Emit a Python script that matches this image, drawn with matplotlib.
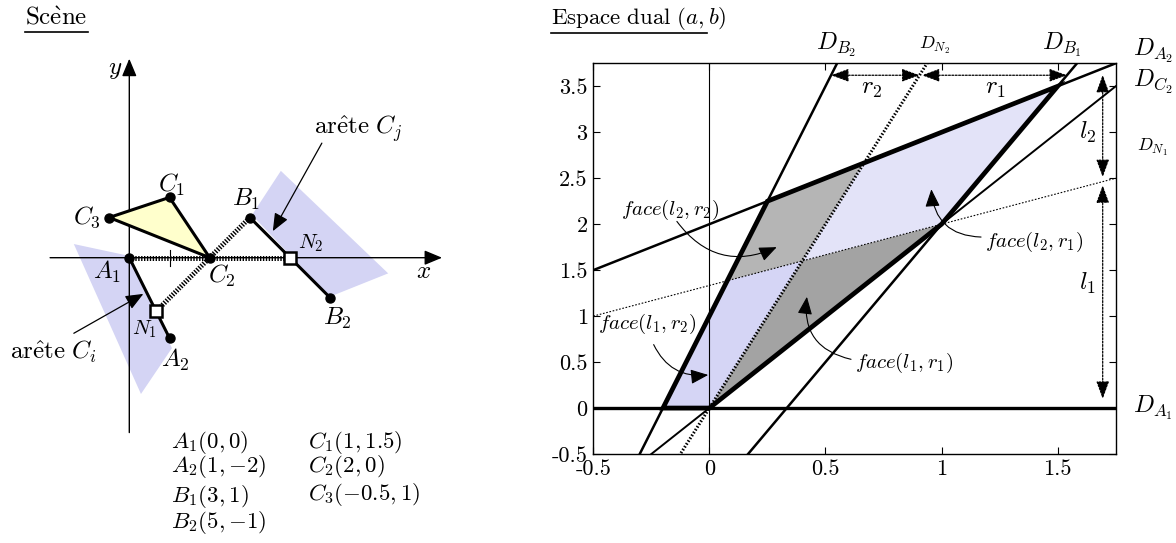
import numpy as np
import matplotlib.pyplot as plt
from matplotlib.lines import Line2D
from matplotlib.patches import Polygon

plt.rcParams["mathtext.fontset"] = "cm"
plt.rcParams["font.family"] = "cmr10"
plt.rcParams["axes.unicode_minus"] = False

# --- scene data ---
pt_names = ["A_1", "A_2", "B_1", "B_2", "C_1", "C_2", "C_3"]
pt_x = [0, 1, 3, 5, 1, 2, -0.5]
pt_y = [0, -2, 1, -1, 1.5, 0, 1]
pt_text = ["(0,0)", "(1,{-}2)", "(3,1)", "(5,{-}1)", "(1,1.5)", "(2,0)", "({-}0.5,1)"]
P = {n: (x, y) for n, x, y in zip(pt_names, pt_x, pt_y)}

n_names = ["N_1", "N_2"]
n_x = [2 / 3, 4]
n_y = [-4 / 3, 0]
N = {n: (x, y) for n, x, y in zip(n_names, n_x, n_y)}

# shaded half-planes around the two edges
shade_i_x = [-1.38, 0.02, 1.06, 0.29]
shade_i_y = [0.34, 0.04, -2.25, -3.39]
shade_j_x = [3.77, 6.44, 4.99, 3.05]
shade_j_y = [2.16, -0.39, -0.97, 1.06]

# --- dual space: point (x, y) -> line b = a*x - y ---
dual_names = ["A_1", "A_2", "B_1", "B_2", "C_2", "N_1", "N_2"]
dual = {}
for n in dual_names:
    x, y = P[n] if n in P else N[n]
    dual[n] = (x, -y)


def inter(n1, n2):
    m1, c1 = dual[n1]
    m2, c2 = dual[n2]
    a = (c2 - c1) / (m1 - m2)
    return (a, m1 * a + c1)


face_l1r2 = [("A_1", "B_2"), ("A_1", "C_2"), ("N_1", "N_2"), ("N_1", "B_2")]
face_l2r2 = [("N_1", "B_2"), ("N_1", "N_2"), ("N_2", "A_2"), ("A_2", "B_2")]
face_l1r1 = [("A_1", "C_2"), ("C_2", "B_1"), ("N_1", "N_2")]
face_l2r1 = [("N_1", "N_2"), ("C_2", "B_1"), ("B_1", "A_2"), ("N_2", "A_2")]
outline = [("A_1", "B_2"), ("A_1", "C_2"), ("C_2", "B_1"), ("B_1", "A_2"), ("A_2", "B_2")]

W, H = 1176, 543
fig = plt.figure(figsize=(W / 100, H / 100), dpi=100)


def fx(px):
    return px / W


def fy(py):
    return 1 - py / H


# ================= scene =================
sx0, sy0, sc = 129.3, 257.7, 40.2
ax0 = fig.add_axes([0, 0, 540 / W, 1])
ax0.set_xlim((0 - sx0) / sc, (540 - sx0) / sc)
ax0.set_ylim((sy0 - H) / sc, sy0 / sc)
ax0.axis("off")

blue = "#d4d4f4"
ax0.add_patch(Polygon(list(zip(shade_i_x, shade_i_y)), fc=blue, ec="none", zorder=1))
ax0.add_patch(Polygon(list(zip(shade_j_x, shade_j_y)), fc=blue, ec="none", zorder=1))

ahead = dict(arrowstyle="-|>,head_length=0.6,head_width=0.25", color="k",
             lw=1, mutation_scale=18, shrinkA=0, shrinkB=0)
ax0.annotate("", xy=(7.78, 0), xytext=(-1.97, 0), arrowprops=ahead, zorder=2)
ax0.annotate("", xy=(0, 4.95), xytext=(0, -4.35), arrowprops=ahead, zorder=2)
ax0.text(7.31, -0.36, "$x$", fontsize=18, ha="center", va="center")
ax0.text(-0.36, 4.66, "$y$", fontsize=18, ha="center", va="center")
ax0.plot([1, 1], [-0.2, 0.2], color="k", lw=0.8, zorder=2)
ax0.plot([-0.25, 0.25], [1, 1], color="k", lw=0.8, zorder=2)

hatch = dict(color="k", lw=3.6, ls=(0, (0.28, 0.3)), dash_capstyle="butt", zorder=3)
ax0.plot([P["A_1"][0], N["N_2"][0]], [P["A_1"][1], N["N_2"][1]], **hatch)
ax0.plot([N["N_1"][0], P["B_1"][0]], [N["N_1"][1], P["B_1"][1]], **hatch)

tri = [P["C_1"], P["C_2"], P["C_3"]]
ax0.add_patch(Polygon(tri, fc="#ffffcc", ec="k", lw=2.2, joinstyle="round", zorder=3))
ax0.plot([P["A_1"][0], P["A_2"][0]], [P["A_1"][1], P["A_2"][1]], color="k", lw=2.2, zorder=4)
ax0.plot([P["B_1"][0], P["B_2"][0]], [P["B_1"][1], P["B_2"][1]], color="k", lw=2.2, zorder=4)

ax0.plot(pt_x, pt_y, "o", ms=6.5, color="k", zorder=5)
ax0.plot(n_x, n_y, "s", ms=9, mfc="white", mec="k", mew=1.8, zorder=6)

lab_off = {"A_1": (-0.56, -0.36), "A_2": (0.14, -0.55), "B_1": (-0.1, 0.45),
           "B_2": (0.17, -0.5), "C_1": (0.05, 0.3), "C_2": (0.3, -0.45),
           "C_3": (-0.55, 0.0)}
for n in pt_names:
    dx, dy = lab_off[n]
    ax0.text(P[n][0] + dx, P[n][1] + dy, f"${n}$", fontsize=18, ha="center", va="center")
ax0.text(N["N_1"][0] - 0.28, N["N_1"][1] - 0.45, "$N_1$", fontsize=15, ha="center", va="center")
ax0.text(N["N_2"][0] + 0.52, N["N_2"][1] + 0.36, "$N_2$", fontsize=15, ha="center", va="center")

thin = dict(arrowstyle="-|>,head_length=0.6,head_width=0.25", color="k",
            lw=0.9, mutation_scale=18, shrinkA=0, shrinkB=0)
ax0.annotate("", xy=(3.57, 0.66), xytext=(4.79, 2.85), arrowprops=thin, zorder=7)
ax0.text(5.70, 3.22, r"$\mathrm{ar\hat{e}te}\ C_j$", fontsize=18, ha="center", va="center")
ax0.annotate("", xy=(0.35, -0.9), xytext=(-1.38, -1.88), arrowprops=thin, zorder=7)
ax0.text(-1.89, -2.34, r"$\mathrm{ar\hat{e}te}\ C_i$", fontsize=18, ha="center", va="center")

# coordinate list
col_y = {"A_1": 442, "A_2": 467, "B_1": 497, "B_2": 522, "C_1": 442, "C_2": 467, "C_3": 494}
for n, t in zip(pt_names, pt_text):
    px = 171 if n[0] in "AB" else 308
    fig.text(fx(px), fy(col_y[n]), f"${n}{t}$", fontsize=16.5, ha="left", va="center")

fig.text(fx(25), fy(18), r"$\mathrm{Sc\grave{e}ne}$", fontsize=18, ha="left", va="center")
fig.add_artist(Line2D([fx(25), fx(88)], [fy(32), fy(32)], color="k", lw=1.2))
fig.text(fx(551), fy(18), r"$\mathrm{Espace\ dual}\ (a,b)$", fontsize=16.5, ha="left", va="center")
fig.add_artist(Line2D([fx(551), fx(707)], [fy(33), fy(33)], color="k", lw=1.2))

# ================= dual space =================
ax1 = fig.add_axes([fx(593.3), fy(454), (1115.7 - 593.3) / W, (454 - 63.3) / H])
ax1.set_xlim(-0.5, 1.75)
ax1.set_ylim(-0.5, 3.75)

for pts, col in [(face_l1r2, "#d5d5f5"), (face_l2r2, "#b5b5b5"),
                 (face_l1r1, "#a3a3a3"), (face_l2r1, "#e3e3f8")]:
    ax1.add_patch(Polygon([inter(*p) for p in pts], fc=col, ec="none", zorder=1))

ax1.axvline(0, color="k", lw=0.8, zorder=2)
a = np.array([-0.5, 1.75])
styles = {"A_1": dict(lw=2.4), "A_2": dict(lw=1.8), "B_1": dict(lw=1.8),
          "B_2": dict(lw=1.8), "C_2": dict(lw=1.4),
          "N_1": dict(lw=0.8, ls=(0, (1.5, 1.5))),
          "N_2": dict(lw=2.2, ls=(0, (0.5, 0.6)))}
for n in dual_names:
    m, c = dual[n]
    ax1.plot(a, m * a + c, color="k", zorder=3, **styles[n])

ax1.add_patch(Polygon([inter(*p) for p in outline], fc="none", ec="k", lw=3.4,
                      joinstyle="miter", zorder=4))

ax1.set_xticks([-0.5, 0, 0.5, 1, 1.5])
ax1.set_xticklabels(["-0.5", "0", "0.5", "1", "1.5"])
ax1.set_yticks(np.arange(-0.5, 3.51, 0.5))
ax1.set_yticklabels(["-0.5", "0", "0.5", "1", "1.5", "2", "2.5", "3", "3.5"])
ax1.tick_params(direction="in", top=True, right=True, length=5, width=0.8,
                labelsize=16, pad=4)
for s in ax1.spines.values():
    s.set_linewidth(1.0)

dim = dict(arrowstyle="<|-|>,head_length=0.6,head_width=0.22", color="k",
           lw=0.9, ls=(0, (1.5, 1.2)), mutation_scale=18, shrinkA=0, shrinkB=0)
rb = 3.62
ax1.annotate("", xy=((rb - dual["B_2"][1]) / dual["B_2"][0], rb),
             xytext=((rb - dual["N_2"][1]) / dual["N_2"][0], rb), arrowprops=dim, zorder=6)
ax1.annotate("", xy=((rb - dual["N_2"][1]) / dual["N_2"][0] + 0.01, rb),
             xytext=((rb - dual["B_1"][1]) / dual["B_1"][0], rb), arrowprops=dim, zorder=6)
la = 1.694
ax1.annotate("", xy=(la, la + 2 - 0.07), xytext=(la, dual["N_1"][0] * la + dual["N_1"][1] + 0.05),
             arrowprops=dim, zorder=6)
ax1.annotate("", xy=(la, dual["N_1"][0] * la + dual["N_1"][1] - 0.04), xytext=(la, 0.1),
             arrowprops=dim, zorder=6)
ax1.text(0.70, 3.47, "$r_2$", fontsize=18, ha="center", va="center")
ax1.text(1.23, 3.47, "$r_1$", fontsize=18, ha="center", va="center")
ax1.text(1.63, 3.0, "$l_2$", fontsize=18, ha="center", va="center")
ax1.text(1.63, 1.36, "$l_1$", fontsize=18, ha="center", va="center")

dlab = [("B_2", 0.545, 3.95, 17.5), ("N_2", 0.97, 3.95, 13), ("B_1", 1.52, 3.95, 17.5),
        ("A_2", 1.91, 3.88, 17.5), ("C_2", 1.91, 3.55, 17.5), ("N_1", 1.91, 2.83, 13),
        ("A_1", 1.91, 0.0, 17.5)]
for n, x, y, fs in dlab:
    ax1.text(x, y, f"$D_{{{n}}}$", fontsize=fs, ha="center", va="center", clip_on=False)

curved = dict(arrowstyle="-|>,head_length=0.6,head_width=0.25", color="k",
              lw=0.8, mutation_scale=18, shrinkA=0, shrinkB=0)
faces = [("l_2,r_2", (-0.17, 2.16), (-0.14, 2.03), (0.29, 1.75), 0.4),
         ("l_2,r_1", (1.40, 1.81), (1.17, 1.86), (0.956, 2.38), -0.45),
         ("l_1,r_2", (-0.27, 0.91), (-0.24, 0.69), (-0.005, 0.36), 0.35),
         ("l_1,r_1", (0.84, 0.49), (0.61, 0.53), (0.42, 1.21), -0.45)]
for lab, tp, p0, p1, rad in faces:
    ax1.text(tp[0], tp[1], f"$face({lab})$", fontsize=15, ha="center", va="center", zorder=8)
    ax1.annotate("", xy=p1, xytext=p0, zorder=7,
                 arrowprops=dict(connectionstyle=f"arc3,rad={rad}", **curved))

fig.savefig("out.png", dpi=100, facecolor="white")
